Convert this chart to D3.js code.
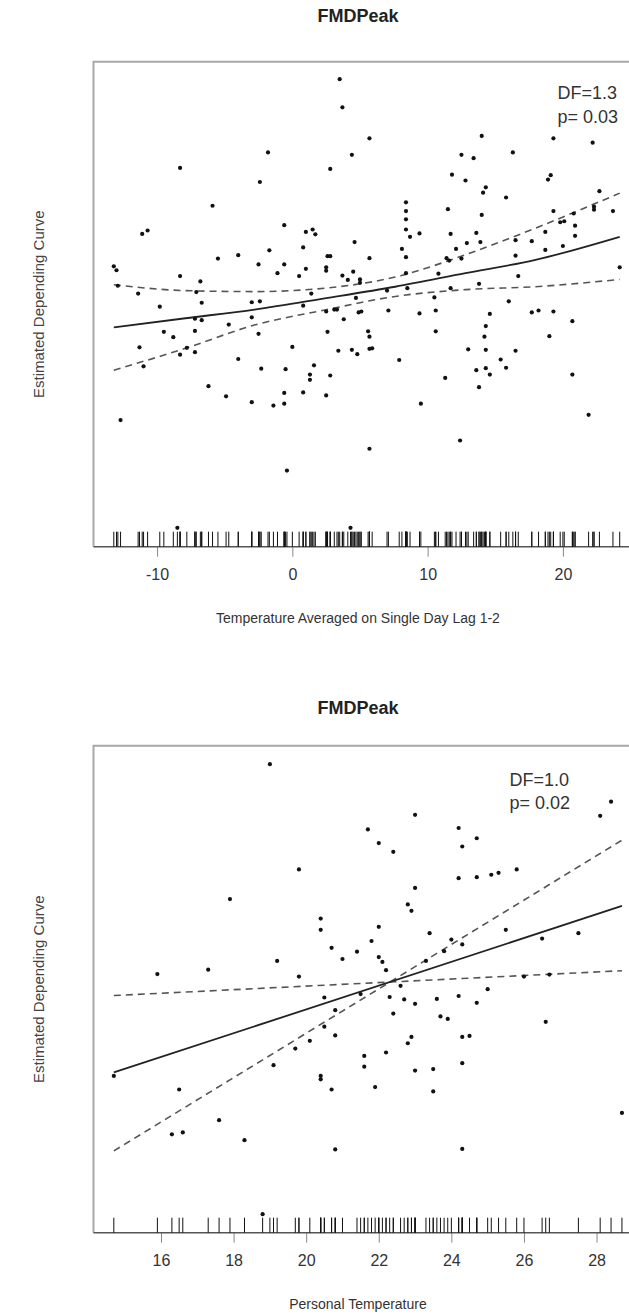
<!DOCTYPE html>
<html>
<head>
<meta charset="utf-8">
<script src="https://cdn.jsdelivr.net/npm/d3@7"></script>
<style>
  body { margin: 0; background: #fff; }
  svg { display: block; font-family: "Liberation Sans", Arial, sans-serif; }
</style>
</head>
<body>
<div id="chart"></div>
<script>
// ---- panel 1: temperature lag 1-2 ----
const lagX = [3.5,3.7,5.7,14.0,19.3,22.2,-1.8,4.4,12.5,13.4,16.3,-8.3,2.8,11.8,12.8,19.1,18.9,-2.4,14.3,14.1,
  22.7,15.8,-5.9,8.4,8.4,11.5,22.3,22.3,23.7,19.3,14.0,8.4,-0.6,20.1,20.8,19.8,8.4,20.9,-11.1,-10.7,
  1.0,1.5,1.7,8.7,9.4,11.7,13.6,18.7,20.9,4.6,12.1,12.9,13.9,16.5,17.7,0.8,-1.7,18.7,20.0,8.1,
  -5.5,-4.0,2.6,2.8,5.7,8.4,11.4,11.6,12.5,16.5,-2.5,-0.6,-13.2,-13.0,24.2,2.5,2.5,1.0,0.5,-1.1,
  4.5,3.7,-8.3,-6.8,10.8,8.4,4.1,5.0,5.0,16.7,-12.9,-11.4,-7.1,1.4,7.0,8.5,11.7,13.8,-3.0,-2.4,
  -6.7,-9.8,0.8,4.7,10.5,16.0,2.5,3.1,3.3,4.9,5.1,7.1,9.4,10.6,14.6,17.7,18.2,19.3,-3.0,-7.2,
  -6.7,3.8,20.7,-4.7,14.3,-9.5,-8.8,-7.2,-2.5,2.6,5.6,5.7,10.6,14.2,19.0,-11.3,-7.8,-8.3,-7.2,0.0,
  3.4,4.4,4.8,5.7,5.9,13.0,14.3,16.5,-11.0,-4.0,-2.3,-0.5,1.6,1.3,1.3,2.8,7.9,13.6,14.3,14.6,
  15.4,15.8,20.7,11.3,-6.2,13.8,-4.9,-3.0,-1.4,-0.6,-0.6,0.8,2.5,9.5,-12.7,21.9,12.4,5.7,-0.4,-8.5,4.3];
const lagY = [96.4,90.6,84.2,84.7,84.2,83.3,81.3,80.8,80.8,80.1,81.3,78.1,77.9,76.7,75.5,76.6,75.7,75.2,74.1,73.0,
  73.3,72.0,70.3,71.0,69.2,69.6,70.1,69.5,69.2,69.2,68.4,67.5,66.3,67.1,68.7,66.9,65.4,66.2,64.5,65.2,
  64.9,65.4,64.4,63.9,64.6,64.5,64.7,64.9,64.1,62.8,61.4,62.6,62.8,63.2,63.0,61.7,61.1,61.2,62.0,61.4,
  59.4,60.1,59.9,59.9,59.5,59.7,59.5,59.0,59.4,60.0,58.2,58.2,57.8,57.0,57.6,57.6,56.9,57.3,55.8,56.4,
  56.7,55.9,55.8,54.7,56.3,56.4,55.0,55.1,54.4,55.8,53.8,52.2,52.5,52.2,52.8,53.3,53.3,54.2,50.4,50.6,
  50.3,49.5,49.7,51.3,51.4,50.6,48.5,48.9,48.9,48.3,48.5,48.7,48.1,48.7,48.0,48.3,48.7,48.5,47.3,47.0,
  46.7,46.9,46.5,45.8,45.5,44.3,43.2,44.5,43.9,44.3,44.4,43.3,44.4,43.3,43.4,41.1,41.0,39.6,40.1,41.2,
  40.4,40.6,39.7,40.8,40.9,40.7,40.6,40.4,37.2,38.7,36.7,36.6,37.4,35.5,34.4,35.3,38.5,36.4,36.8,35.5,
  38.6,36.9,35.5,34.8,33.1,32.9,31.0,29.8,29.1,31.7,29.5,31.8,31.2,29.5,26.1,27.2,21.9,20.2,15.7,3.9,3.9];
const lagFitX = [-13.2, -7.9, -2.8, 2.4, 7.6, 12.8, 17.9, 24.2];
const lagFit = [45.2, 47.1, 48.9, 51.2, 53.6, 56.4, 59.1, 63.9];
const lagUpper = [54.0, 52.8, 52.6, 53.3, 55.6, 60.2, 65.6, 72.9];
const lagLower = [36.4, 40.9, 45.7, 48.8, 51.6, 53.0, 53.6, 55.1];
const lagTicks = [-10, 0, 10, 20];

// ---- panel 2: personal temperature ----
const persX = [19.0,23.0,28.4,28.1,21.7,24.2,24.7,22.0,24.3,22.4,19.8,24.2,24.7,25.1,25.3,25.8,23.0,17.9,22.8,22.9,
  20.4,20.4,22.0,23.4,25.5,26.5,27.5,21.8,20.7,21.4,24.0,24.3,23.8,21.0,19.2,22.0,22.1,22.2,23.3,17.3,
  15.9,19.8,26.0,26.7,22.6,25.0,21.5,20.5,22.3,22.7,23.0,23.6,24.2,24.7,20.8,22.4,23.7,23.9,26.6,20.5,
  20.8,20.1,19.7,22.9,22.8,24.3,24.5,22.2,21.6,21.6,19.1,24.3,23.0,23.5,20.4,20.4,14.7,21.9,20.7,23.5,
  16.5,28.7,17.6,16.3,16.6,18.3,20.8,24.3,18.8];
const persY = [96.2,85.8,88.5,85.6,82.8,83.1,81.0,80.0,79.3,78.2,74.6,72.8,73.0,73.5,73.9,74.6,70.8,68.5,67.4,66.1,
  64.5,62.2,62.8,61.5,62.2,60.4,61.5,59.9,58.5,57.7,60.2,59.2,57.8,56.2,55.8,56.6,55.6,53.9,55.8,54.0,
  53.1,52.6,52.6,53.0,50.7,50.0,49.0,48.3,48.4,47.9,47.0,48.0,48.6,47.2,45.7,45.0,44.4,43.9,43.3,42.3,
  40.5,39.4,37.8,40.2,38.9,40.2,40.4,37.0,36.3,34.1,34.4,34.8,33.3,33.6,32.2,31.5,32.2,29.9,29.4,29.0,
  29.4,24.6,23.1,20.2,20.6,19.0,17.1,17.2,3.8];
const persFitX = [14.7, 28.7];
const persFit = [32.9, 67.1];
const persUpper = [16.8, 80.6];
const persLower = [48.7, 53.8];
const persTicks = [16, 18, 20, 22, 24, 26, 28];

const W = 629, H = 1316;
const svg = d3.select('#chart').append('svg')
  .attr('width', W)
  .attr('height', H)
  .style('background-color', '#ffffff');

function drawPanel(p) {
  const g = svg.append('g');
  const x = d3.scaleLinear().domain(p.xDomain).range([93.5, p.right]);
  const y = d3.scaleLinear().domain([0, 100]).range([p.bottom, p.top]);

  // title
  g.append('text')
    .attr('x', 358)
    .attr('y', p.titleY)
    .attr('text-anchor', 'middle')
    .style('font-weight', 'bold')
    .style('font-size', '18px')
    .style('fill', '#222')
    .text('FMDPeak');

  // y label
  g.append('text')
    .attr('transform', `translate(44,${(p.top + p.bottom) / 2}) rotate(-90)`)
    .attr('text-anchor', 'middle')
    .style('font-size', '15px')
    .style('fill', '#444')
    .text('Estimated Depending Curve');

  // box (left + top) in light gray
  g.append('path')
    .attr('d', `M${x.range()[1] + 5},${p.top}H${x.range()[0]}V${p.bottom}`)
    .style('fill', 'none')
    .style('stroke', '#a8a8a8')
    .style('stroke-width', 2);

  // x axis
  const axis = g.append('g')
    .attr('transform', `translate(0,${p.bottom})`)
    .call(d3.axisBottom(x).tickValues(p.ticks).tickSize(10).tickPadding(12).tickFormat(d => String(d)));
  axis.select('.domain').remove();
  axis.selectAll('.tick line').style('stroke', '#888');
  axis.selectAll('.tick text')
    .style('font-size', '16px')
    .style('font-family', '"Liberation Sans", Arial, sans-serif')
    .style('fill', '#333');
  g.append('line')
    .attr('x1', x.range()[0]).attr('x2', W + 20)
    .attr('y1', p.bottom).attr('y2', p.bottom)
    .style('stroke', '#555')
    .style('stroke-width', 1.5);

  // rug
  g.append('g').selectAll('line')
    .data(p.xs)
    .enter()
    .append('line')
    .attr('x1', d => x(d)).attr('x2', d => x(d))
    .attr('y1', p.bottom).attr('y2', p.bottom - 15)
    .style('stroke', '#111')
    .style('stroke-width', 1);

  // fitted curve and bands
  const line = d3.line().x(d => x(d[0])).y(d => y(d[1])).curve(d3.curveMonotoneX);
  const series = [
    { vals: p.upper, dash: '7,5', color: '#555', w: 1.6 },
    { vals: p.lower, dash: '7,5', color: '#555', w: 1.6 },
    { vals: p.fit, dash: null, color: '#222', w: 1.8 }
  ];
  series.forEach(s => {
    g.append('path')
      .attr('d', line(p.fitX.map((v, i) => [v, s.vals[i]])))
      .style('fill', 'none')
      .style('stroke', s.color)
      .style('stroke-width', s.w)
      .style('stroke-dasharray', s.dash);
  });

  // points
  g.append('g').selectAll('circle')
    .data(p.xs.map((v, i) => [v, p.ys[i]]))
    .enter()
    .append('circle')
    .attr('cx', d => x(d[0]))
    .attr('cy', d => y(d[1]))
    .attr('r', 2.1)
    .style('fill', '#111');

  // stats annotation
  p.stats.forEach((t, i) => {
    g.append('text')
      .attr('x', x(p.statsX))
      .attr('y', y(p.statsY[i]) + 6)
      .style('font-size', '18px')
      .style('fill', '#333')
      .text(t);
  });

  // x label
  g.append('text')
    .attr('x', 358)
    .attr('y', p.bottom + 76)
    .attr('text-anchor', 'middle')
    .style('font-size', '14px')
    .style('fill', '#333')
    .text(p.xlabel);
}

drawPanel({
  top: 61.7, bottom: 546.7, right: 640, titleY: 22,
  xDomain: [-14.7, 25.7], ticks: lagTicks,
  xs: lagX, ys: lagY,
  fitX: lagFitX, fit: lagFit, upper: lagUpper, lower: lagLower,
  stats: ['DF=1.3', 'p= 0.03'], statsX: 19.6, statsY: [93.5, 88.6],
  xlabel: 'Temperature Averaged on Single Day Lag 1-2'
});

drawPanel({
  top: 745.7, bottom: 1232.7, right: 643, titleY: 714,
  xDomain: [14.14, 29.28], ticks: persTicks,
  xs: persX, ys: persY,
  fitX: persFitX, fit: persFit, upper: persUpper, lower: persLower,
  stats: ['DF=1.0', 'p= 0.02'], statsX: 25.6, statsY: [92.9, 88.2],
  xlabel: 'Personal Temperature'
});
</script>
</body>
</html>
